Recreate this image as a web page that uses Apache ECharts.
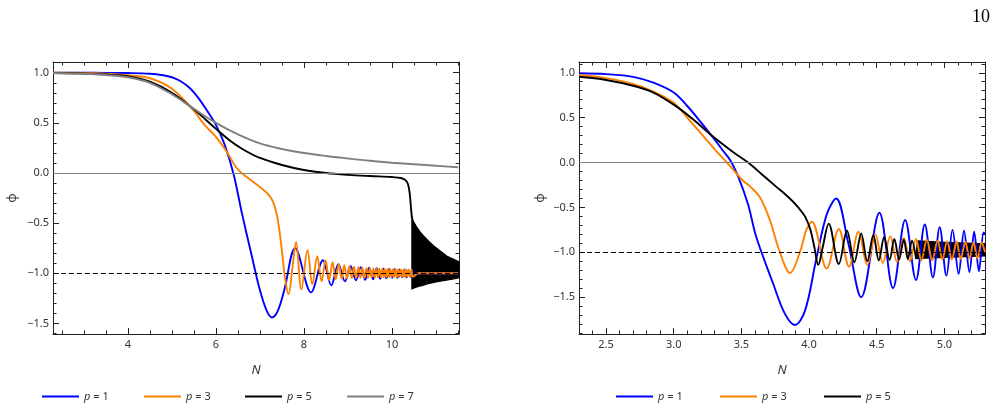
<!DOCTYPE html>
<html>
<head>
<meta charset="utf-8">
<script src="https://cdn.jsdelivr.net/npm/echarts@6/dist/echarts.min.js"></script>
<style>
html,body{margin:0;padding:0;background:#fff;}
#chart{width:998px;height:410px;}
</style>
</head>
<body>
<div id="chart"></div>
<script>
// ---------------- data : left panel ----------------
const p1Left = [[2.3,1.0],[3.0,1.0],[3.5,0.999],[4.0,0.997],[4.5,0.99],[4.8,0.975],[5.0,0.955],[5.2,0.915],[5.4,0.85],[5.6,0.75],[5.8,0.62],[6.0,0.48],[6.2,0.28],[6.4,-0.01],[6.6,-0.42],[6.8,-0.8],[7.0,-1.17],[7.15,-1.37],[7.27,-1.44],[7.4,-1.38],[7.55,-1.17],[7.8,-0.75],[8.16,-1.19],[8.43,-0.87],[8.62,-1.12],[8.78,-0.91],[8.93,-1.08],[9.06,-0.93],[9.18,-1.07],[9.29,-0.94],[9.39,-1.065],[9.48,-0.945],[9.57,-1.06],[9.65,-0.95],[9.73,-1.055],[9.8,-0.955],[9.87,-1.05],[9.935,-0.96],[10.0,-1.045],[10.06,-0.96],[10.12,-1.045],[10.175,-0.965],[10.23,-1.04],[10.28,-0.965],[10.33,-1.04],[10.375,-0.97],[10.42,-1.035],[10.46,-0.97],[10.5,-1.03],[10.6,-1.0],[11.5,-1.0]];
const p3Left = [[2.3,1.0],[3.0,0.998],[3.5,0.99],[4.0,0.975],[4.5,0.945],[5.0,0.84],[5.5,0.62],[5.72,0.49],[6.0,0.36],[6.25,0.21],[6.47,0.05],[6.7,-0.04],[7.0,-0.14],[7.2,-0.22],[7.3,-0.29],[7.38,-0.41],[7.45,-0.6],[7.51,-0.82],[7.57,-1.05],[7.65,-1.21],[7.73,-0.97],[7.82,-0.69],[7.94,-1.16],[8.08,-0.77],[8.19,-1.11],[8.30,-0.83],[8.40,-1.08],[8.49,-0.87],[8.57,-1.07],[8.65,-0.89],[8.72,-1.06],[8.79,-0.91],[8.855,-1.055],[8.915,-0.92],[8.975,-1.05],[9.03,-0.93],[9.085,-1.048],[9.135,-0.935],[9.185,-1.046],[9.235,-0.94],[9.28,-1.045],[9.325,-0.945],[9.37,-1.045],[9.415,-0.948],[9.455,-1.044],[9.495,-0.95],[9.535,-1.043],[9.575,-0.952],[9.61,-1.042],[9.645,-0.953],[9.68,-1.041],[9.715,-0.954],[9.75,-1.04],[9.78,-0.955],[9.81,-1.04],[9.84,-0.956],[9.87,-1.039],[9.9,-0.957],[9.93,-1.038],[9.96,-0.958],[9.99,-1.038],[10.02,-0.959],[10.05,-1.037],[10.08,-0.96],[10.11,-1.037],[10.14,-0.96],[10.17,-1.036],[10.2,-0.961],[10.23,-1.036],[10.26,-0.962],[10.29,-1.035],[10.32,-0.962],[10.35,-1.035],[10.38,-0.963],[10.41,-1.035],[10.44,-0.963],[10.47,-1.035],[10.6,-1.0],[11.5,-1.0]];
const p5Left = [[2.3,0.998],[3.0,0.993],[3.5,0.982],[4.0,0.965],[4.5,0.91],[5.0,0.8],[5.5,0.635],[6.0,0.44],[6.3,0.33],[6.6,0.24],[7.0,0.15],[7.5,0.08],[8.0,0.03],[8.5,0.0],[9.0,-0.018],[9.5,-0.03],[10.0,-0.04],[10.2,-0.05],[10.3,-0.07],[10.36,-0.11],[10.4,-0.2],[10.43,-0.35],[10.45,-0.45]];
const p5LeftBandUpper = [[10.45,-0.43],[10.48,-0.48],[10.52,-0.51],[10.56,-0.54],[10.64,-0.59],[10.72,-0.63],[10.83,-0.68],[10.94,-0.725],[11.1,-0.78],[11.25,-0.83],[11.4,-0.86],[11.52,-0.885]];
const p5LeftBandLower = [[10.45,-1.155],[10.5,-1.145],[10.6,-1.13],[10.7,-1.12],[10.8,-1.105],[10.9,-1.095],[11.0,-1.085],[11.2,-1.07],[11.4,-1.055],[11.52,-1.045]];
const p7Left = [[2.3,0.998],[3.0,0.99],[3.5,0.978],[4.0,0.955],[4.5,0.9],[5.0,0.785],[5.5,0.64],[6.0,0.5],[6.5,0.385],[7.0,0.295],[7.5,0.24],[8.0,0.2],[8.5,0.17],[9.0,0.145],[9.5,0.122],[10.0,0.103],[10.5,0.087],[11.0,0.072],[11.5,0.058]];

// ---------------- data : right panel ----------------
const p1Right = [[2.3,0.995],[2.5,0.985],[2.7,0.955],[2.85,0.89],[3.0,0.78],[3.1,0.63],[3.2,0.45],[3.3,0.26],[3.36,0.14],[3.42,0.02],[3.48,-0.17],[3.55,-0.47],[3.61,-0.83],[3.735,-1.35],[3.82,-1.68],[3.895,-1.81],[3.97,-1.65],[4.05,-1.1],[4.13,-0.58],[4.20,-0.40],[4.29,-0.9],[4.385,-1.50],[4.52,-0.56],[4.62,-1.40],[4.71,-0.64],[4.79,-1.31],[4.855,-0.69],[4.915,-1.28],[4.965,-0.72],[5.015,-1.26],[5.06,-0.75],[5.105,-1.24],[5.145,-0.76],[5.185,-1.22],[5.22,-0.77],[5.255,-1.21],[5.29,-0.78],[5.3,-0.8]];
const p3Right = [[2.3,0.975],[2.5,0.94],[2.7,0.875],[2.85,0.79],[3.0,0.665],[3.14,0.43],[3.29,0.17],[3.41,-0.03],[3.51,-0.2],[3.56,-0.26],[3.636,-0.385],[3.71,-0.64],[3.78,-0.98],[3.86,-1.23],[3.93,-1.01],[3.98,-0.75],[4.02,-0.66],[4.13,-1.18],[4.22,-0.74],[4.295,-1.16],[4.365,-0.77],[4.43,-1.14],[4.49,-0.80],[4.545,-1.12],[4.60,-0.82],[4.65,-1.11],[4.70,-0.84],[4.745,-1.10],[4.79,-0.85],[4.83,-1.09],[4.87,-0.86],[4.91,-1.09],[4.95,-0.87],[4.985,-1.08],[5.02,-0.875],[5.055,-1.08],[5.09,-0.88],[5.12,-1.075],[5.155,-0.885],[5.185,-1.07],[5.215,-0.89],[5.245,-1.07],[5.275,-0.89],[5.3,-1.0]];
const p5Right = [[2.3,0.955],[2.5,0.92],[2.7,0.855],[2.85,0.78],[3.0,0.645],[3.14,0.485],[3.29,0.29],[3.44,0.115],[3.55,0.0],[3.65,-0.13],[3.75,-0.26],[3.85,-0.39],[3.92,-0.5],[3.97,-0.6],[4.01,-0.75],[4.04,-0.95],[4.068,-1.14],[4.1,-0.95],[4.145,-0.68],[4.22,-1.13],[4.28,-0.76],[4.335,-1.11],[4.385,-0.79],[4.43,-1.10],[4.475,-0.81],[4.515,-1.09],[4.555,-0.83],[4.595,-1.085],[4.63,-0.85],[4.665,-1.08],[4.70,-0.86],[4.73,-1.075],[4.76,-0.87],[4.79,-1.07]];
const p5RightBandUpper = [[4.79,-1.07],[4.80,-0.872],[4.9,-0.882],[5.0,-0.89],[5.1,-0.895],[5.2,-0.9],[5.3,-0.905]];
const p5RightBandLower = [[4.79,-1.07],[4.9,-1.062],[5.0,-1.056],[5.1,-1.05],[5.2,-1.045],[5.3,-1.04]];

// ---------------- ticks ----------------
const xMajorLeft = [4,6,8,10];
const xMinorLeft = [2.5,3,3.5,4.5,5,5.5,6.5,7,7.5,8.5,9,9.5,10.5,11,11.5];
const yMajor = [-1.5,-1,-0.5,0,0.5,1];
const yMinorLeft = [-1.6,-1.4,-1.3,-1.2,-1.1,-0.9,-0.8,-0.7,-0.6,-0.4,-0.3,-0.2,-0.1,0.1,0.2,0.3,0.4,0.6,0.7,0.8,0.9,1.1];
const xMajorRight = [2.5,3,3.5,4,4.5,5];
const xMinorRight = [2.3,2.4,2.6,2.7,2.8,2.9,3.1,3.2,3.3,3.4,3.6,3.7,3.8,3.9,4.1,4.2,4.3,4.4,4.6,4.7,4.8,4.9,5.1,5.2,5.3];
const yMinorRight = [-1.9,-1.8,-1.7,-1.6,-1.4,-1.3,-1.2,-1.1,-0.9,-0.8,-0.7,-0.6,-0.4,-0.3,-0.2,-0.1,0.1,0.2,0.3,0.4,0.6,0.7,0.8,0.9,1.1];
const seriesNames = ['p = 1','p = 3','p = 5','p = 7'];
const pageNumber = '10';

// ---------------- styling / building ----------------
const FONT = 'Noto Sans';
const FRAME = '#222';
const COLORS = {'p = 1':'#0000ff','p = 3':'#ff8000','p = 5':'#000000','p = 7':'#808080'};
const extentL = {xmin:2.3, xmax:11.52, ymin:-1.605, ymax:1.107};
const extentR = {xmin:2.3, xmax:5.3, ymin:-1.91, ymax:1.12};

const minus = s => s.replace('-', '\u2212');
const fmt1 = v => minus(Number(v).toFixed(1));
const fmt0 = v => minus(String(Math.round(v)));

function axis(kind, grid, ext, pos, vals, len, showLine, fmt, extra) {
  const a = {
    type:'value', gridIndex:grid, position:pos,
    min: kind==='x'?ext.xmin:ext.ymin, max: kind==='x'?ext.xmax:ext.ymax,
    axisLine:{show:showLine, onZero:false, lineStyle:{color:FRAME, width:1}},
    axisTick:{show:true, inside:true, length:len, customValues:vals, lineStyle:{color:FRAME, width:1}},
    axisLabel: fmt ? {show:true, customValues:vals, formatter:fmt, margin: kind==='x'?5:4, color:'#333', fontSize:11, fontFamily:FONT}
                   : {show:false},
    splitLine:{show:false}, minorTick:{show:false}
  };
  return Object.assign(a, extra||{});
}
const xName = {name:'N', nameLocation:'middle', nameGap:30,
  nameTextStyle:{fontFamily:FONT, fontSize:13, fontStyle:'italic', color:'#333'}};
const yName = g => ({name:'\u03d5', nameLocation:'middle', nameGap:g, nameRotate:90,
  nameTextStyle:{fontFamily:FONT, fontSize:13, color:'#333'}});

const xAxes = [
  axis('x',0,extentL,'bottom',xMajorLeft,6,true,fmt0,xName),
  axis('x',0,extentL,'bottom',xMinorLeft,3.5,false,null),
  axis('x',0,extentL,'top',xMajorLeft,6,true,null),
  axis('x',0,extentL,'top',xMinorLeft,3.5,false,null),
  axis('x',1,extentR,'bottom',xMajorRight,6,true,fmt1,xName),
  axis('x',1,extentR,'bottom',xMinorRight,3.5,false,null),
  axis('x',1,extentR,'top',xMajorRight,6,true,null),
  axis('x',1,extentR,'top',xMinorRight,3.5,false,null)
];
const yAxes = [
  axis('y',0,extentL,'left',yMajor,6,true,fmt1,yName(34)),
  axis('y',0,extentL,'left',yMinorLeft,3.5,false,null),
  axis('y',0,extentL,'right',yMajor,6,true,null),
  axis('y',0,extentL,'right',yMinorLeft,3.5,false,null),
  axis('y',1,extentR,'left',yMajor,6,true,fmt1,yName(32)),
  axis('y',1,extentR,'left',yMinorRight,3.5,false,null),
  axis('y',1,extentR,'right',yMajor,6,true,null),
  axis('y',1,extentR,'right',yMinorRight,3.5,false,null)
];

function lineSeries(name, data, xi, yi) {
  return {type:'line', name, data, xAxisIndex:xi, yAxisIndex:yi, showSymbol:false, symbol:'none',
    smooth:0.35, color:COLORS[name],
    lineStyle:{color:COLORS[name], width:1.9}, animation:false, silent:true};
}
function refSeries(xi, yi, z, lines) {
  return {type:'line', name:'_ref'+xi+'_'+z, data:[], xAxisIndex:xi, yAxisIndex:yi, z,
    markLine:{silent:true, symbol:'none', animation:false, label:{show:false}, data:lines}};
}
function bandSeries(name, upper, lower, xi, yi) {
  return {
    type:'custom', name, xAxisIndex:xi, yAxisIndex:yi, silent:true, animation:false,
    data:[[upper[0][0], upper[0][1]]],
    encode:{x:0, y:1},
    renderItem:function(params, api){
      const pts = [];
      upper.forEach(p => pts.push(api.coord(p)));
      lower.slice().reverse().forEach(p => pts.push(api.coord(p)));
      return {type:'polygon', shape:{points:pts}, style:{fill:'#000', stroke:'#000', lineWidth:1.2}};
    }
  };
}
const zeroLine = {yAxis:0, lineStyle:{color:'#808080', type:'solid', width:1}};
const minusOneLine = {yAxis:-1, lineStyle:{color:'#000', type:[5,3], width:1}};

const series = [
  refSeries(0,0,1,[zeroLine]),
  lineSeries('p = 1', p1Left, 0, 0),
  lineSeries('p = 3', p3Left, 0, 0),
  lineSeries('p = 5', p5Left, 0, 0),
  bandSeries('p = 5 band L', p5LeftBandUpper, p5LeftBandLower, 0, 0),
  lineSeries('p = 7', p7Left, 0, 0),
  refSeries(0,0,5,[minusOneLine]),
  refSeries(4,4,1,[zeroLine]),
  lineSeries('p = 1', p1Right, 4, 4),
  lineSeries('p = 3', p3Right, 4, 4),
  lineSeries('p = 5', p5Right, 4, 4),
  bandSeries('p = 5 band R', p5RightBandUpper, p5RightBandLower, 4, 4),
  refSeries(4,4,5,[minusOneLine])
];

const legendLefts = [[42,144,245,347],[616,720,824]];
const legends = [];
legendLefts.forEach((arr) => {
  arr.forEach((lx, i) => {
    legends.push({
      data:[seriesNames[i]], left:lx, top:391, icon:'rect', itemWidth:37, itemHeight:2, itemGap:0, padding:0,
      selectedMode:false,
      formatter: n => '{i|p}' + n.slice(1),
      textStyle:{fontFamily:FONT, fontSize:11, color:'#333', rich:{i:{fontFamily:FONT, fontSize:11, fontStyle:'italic', color:'#333'}}}
    });
  });
});

const option = {
  backgroundColor:'#fff',
  animation:false,
  title:{text:pageNumber, right:3, top:3, textStyle:{fontFamily:'Liberation Serif', fontSize:18, fontWeight:'normal', color:'#000'}},
  grid:[
    {left:53, top:62, width:406, height:272, containLabel:false, outerBoundsMode:'none'},
    {left:579, top:62, width:406, height:272, containLabel:false, outerBoundsMode:'none'}
  ],
  xAxis:xAxes,
  yAxis:yAxes,
  legend:legends,
  series
};
const chart = echarts.init(document.getElementById('chart'), null, {renderer:'canvas'});
chart.setOption(option);
</script>
</body>
</html>
